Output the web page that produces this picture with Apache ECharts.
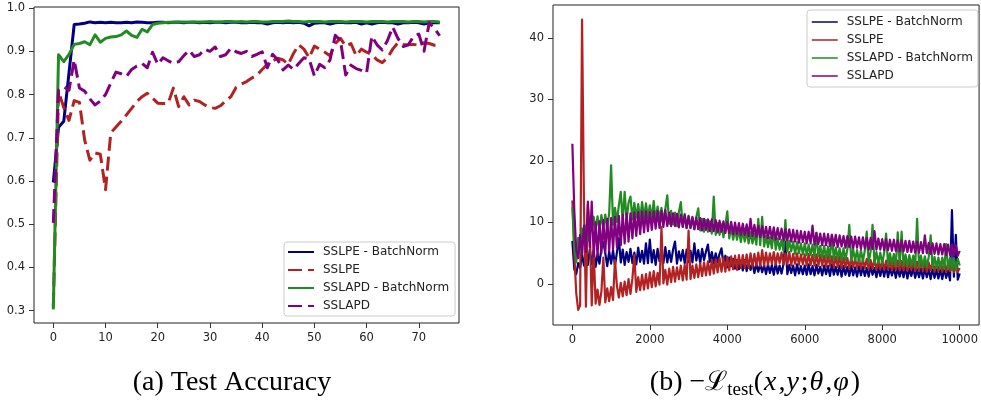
<!DOCTYPE html>
<html>
<head>
<meta charset="utf-8">
<script src="https://cdn.jsdelivr.net/npm/echarts@6/dist/echarts.min.js"></script>
<style>
    html, body { margin: 0; padding: 0; background: #fff; }
    #chart { width: 981px; height: 405px; }
</style>
</head>
<body>
<div id="chart"></div>
<script>
// series names, in drawing order
var seriesNames = ['SSLPE - BatchNorm', 'SSLPE', 'SSLAPD - BatchNorm', 'SSLAPD'];

// (a) test accuracy per epoch, epochs 0..74
var accSslpeBn = [0.597, 0.724, 0.738, 0.850, 0.962, 0.963, 0.965, 0.968, 0.966, 0.967,
    0.966, 0.967, 0.966, 0.966, 0.967, 0.966, 0.968, 0.967, 0.966, 0.966,
    0.967, 0.967, 0.966, 0.967, 0.967, 0.966, 0.967, 0.967, 0.966, 0.967,
    0.966, 0.967, 0.967, 0.966, 0.967, 0.967, 0.966, 0.966, 0.967, 0.966,
    0.966, 0.963, 0.966, 0.967, 0.966, 0.967, 0.966, 0.967, 0.965, 0.959,
    0.965, 0.966, 0.966, 0.963, 0.966, 0.967, 0.966, 0.966, 0.967, 0.963,
    0.966, 0.963, 0.966, 0.967, 0.966, 0.966, 0.963, 0.966, 0.966, 0.967,
    0.966, 0.963, 0.966, 0.966, 0.966];
var accSslpe = [0.310, 0.807, 0.770, 0.740, 0.786, 0.782, 0.695, 0.648, 0.665, 0.662,
    0.580, 0.711, 0.725, 0.738, 0.753, 0.768, 0.784, 0.795, 0.803, 0.792,
    0.780, 0.779, 0.780, 0.815, 0.772, 0.795, 0.776, 0.787, 0.784, 0.776,
    0.770, 0.768, 0.774, 0.785, 0.795, 0.816, 0.824, 0.830, 0.838, 0.845,
    0.858, 0.870, 0.878, 0.884, 0.880, 0.870, 0.895, 0.915, 0.905, 0.885,
    0.912, 0.905, 0.898, 0.890, 0.918, 0.930, 0.912, 0.918, 0.890, 0.905,
    0.898, 0.893, 0.880, 0.874, 0.885, 0.905, 0.920, 0.916, 0.915, 0.916,
    0.914, 0.920, 0.918, 0.914, 0.914];
var accSslapdBn = [0.303, 0.892, 0.876, 0.893, 0.916, 0.918, 0.922, 0.915, 0.938, 0.921,
    0.930, 0.933, 0.934, 0.938, 0.947, 0.937, 0.932, 0.951, 0.945, 0.962,
    0.965, 0.966, 0.967, 0.967, 0.968, 0.968, 0.967, 0.968, 0.968, 0.968,
    0.969, 0.968, 0.968, 0.969, 0.969, 0.968, 0.969, 0.968, 0.969, 0.969,
    0.968, 0.968, 0.969, 0.969, 0.969, 0.970, 0.969, 0.969, 0.968, 0.969,
    0.969, 0.969, 0.968, 0.969, 0.969, 0.969, 0.968, 0.969, 0.969, 0.969,
    0.968, 0.969, 0.969, 0.969, 0.968, 0.969, 0.969, 0.969, 0.968, 0.969,
    0.969, 0.968, 0.969, 0.969, 0.968];
var accSslapd = [0.503, 0.810, 0.818, 0.810, 0.880, 0.815, 0.808, 0.790, 0.776, 0.785,
    0.800, 0.826, 0.852, 0.848, 0.842, 0.858, 0.866, 0.872, 0.862, 0.898,
    0.870, 0.885, 0.878, 0.872, 0.876, 0.890, 0.902, 0.888, 0.892, 0.905,
    0.900, 0.910, 0.888, 0.892, 0.907, 0.899, 0.895, 0.900, 0.888, 0.893,
    0.899, 0.862, 0.893, 0.880, 0.857, 0.868, 0.858, 0.872, 0.885, 0.882,
    0.843, 0.870, 0.862, 0.880, 0.937, 0.925, 0.845, 0.868, 0.860, 0.856,
    0.850, 0.935, 0.915, 0.903, 0.925, 0.956, 0.930, 0.911, 0.915, 0.935,
    0.940, 0.900, 0.966, 0.953, 0.936];

// (b) negative test loss, one reading every lossStep iterations, 0..10000
var lossStep = 50;
var lossSslpeBn = [7.0, 2.4, 1.6, 3.4, 2.6, 4.8, 3.0, 5.2, 3.1, 5.6,
    3.2, 5.4, 2.8, 4.9, 3.3, 5.9, 6.8, 5.0, 2.9, 5.3,
    3.3, 5.5, 3.0, 5.1, 7.4, 3.5, 5.6, 3.1, 5.2, 3.6,
    5.7, 3.4, 5.1, 3.2, 5.9, 3.6, 5.4, 3.3, 6.6, 3.4,
    7.2, 3.5, 5.5, 3.1, 5.7, 3.7, 5.2, 3.4, 6.0, 3.5,
    5.4, 3.6, 5.6, 6.9, 3.3, 5.3, 3.8, 5.5, 3.4, 5.6,
    3.6, 5.4, 3.5, 6.6, 3.8, 5.5, 3.4, 5.7, 3.9, 5.3,
    6.4, 3.6, 5.2, 3.3, 5.0, 3.5, 4.9, 5.8, 3.2, 4.6,
    2.7, 4.3, 2.9, 4.1, 2.5, 3.9, 2.4, 3.8, 2.2, 3.9,
    2.1, 3.5, 2.3, 3.4, 1.8, 3.3, 2.0, 3.2, 1.9, 3.1,
    1.6, 3.2, 1.8, 3.1, 1.5, 3.4, 1.7, 3.0, 1.7, 3.2,
    6.9, 1.6, 3.1, 1.8, 3.0, 1.4, 3.2, 1.7, 2.9, 1.6,
    3.0, 1.5, 3.2, 1.6, 2.9, 1.4, 3.1, 1.7, 2.8, 1.4,
    3.0, 1.6, 2.9, 1.3, 3.2, 1.5, 2.8, 1.5, 3.0, 1.2,
    2.9, 1.5, 2.8, 1.3, 3.0, 1.4, 2.7, 1.2, 2.9, 1.4,
    2.8, 1.3, 2.6, 1.2, 2.9, 1.5, 2.6, 1.1, 2.8, 1.3,
    2.7, 1.2, 2.9, 1.1, 2.6, 1.4, 2.7, 1.0, 2.6, 1.2,
    2.6, 1.1, 2.8, 0.9, 2.5, 1.3, 2.6, 1.0, 2.4, 1.1,
    2.5, 0.9, 2.6, 1.1, 2.4, 0.8, 2.5, 1.0, 2.3, 0.9,
    2.4, 0.8, 2.5, 1.0, 2.2, 0.6, 12.0, 1.2, 8.0, 0.7,
    1.7];
var lossSslpe = [13.6, 5.0, -1.5, -4.2, -3.5, 43.0, 12.6, -3.7, 12.8, 8.8,
    -3.5, 5.6, -3.2, -0.9, -3.4, -1.2, 4.3, -3.0, -0.7, -2.8,
    -0.5, -2.6, 3.9, -0.3, -2.2, 0.2, -2.0, 0.4, -1.8, 0.8,
    -1.6, 0.9, 4.7, -1.3, 1.1, -1.0, 1.5, -0.9, 1.6, -0.7,
    1.9, -0.5, 2.1, -0.4, 1.8, -0.1, 9.3, 0.1, 2.3, -0.1,
    2.5, 0.3, 2.8, 0.4, 2.7, 0.8, 3.0, 0.6, 3.1, 0.7,
    8.7, 0.8, 3.0, 1.0, 3.2, 1.1, 3.4, 1.3, 3.5, 1.4,
    3.7, 1.5, 3.9, 1.7, 4.0, 1.9, 4.2, 2.0, 4.3, 2.0,
    4.4, 2.2, 4.5, 2.4, 4.6, 2.3, 4.7, 2.6, 4.7, 2.6,
    4.8, 2.6, 5.0, 2.8, 4.9, 3.0, 5.1, 2.9, 5.5, 3.0,
    5.1, 3.1, 5.0, 3.3, 5.2, 3.1, 5.0, 3.4, 5.1, 3.2,
    5.0, 3.2, 5.2, 3.0, 4.9, 3.3, 5.0, 3.1, 4.8, 3.2,
    4.8, 3.0, 4.9, 3.1, 4.7, 3.0, 4.8, 2.9, 4.8, 3.0,
    4.6, 2.8, 4.7, 2.9, 4.5, 2.7, 4.4, 2.8, 4.5, 2.6,
    4.3, 2.7, 4.2, 2.5, 4.3, 2.7, 4.1, 2.6, 4.2, 2.5,
    4.0, 2.6, 4.1, 2.4, 3.9, 2.5, 4.0, 2.3, 3.8, 2.4,
    3.9, 2.3, 3.8, 2.4, 3.9, 2.2, 3.7, 2.3, 3.8, 2.2,
    3.7, 2.2, 3.8, 2.1, 3.6, 2.3, 3.7, 2.1, 3.6, 2.2,
    3.6, 2.1, 3.7, 2.0, 3.5, 2.2, 3.6, 2.0, 3.5, 2.1,
    3.5, 2.0, 3.6, 1.9, 3.4, 2.1, 3.5, 1.9, 3.4, 2.0,
    2.6];
var lossSslapdBn = [12.5, 6.0, 3.5, 7.5, 5.0, 9.0, 6.5, 9.5, 7.0, 10.0,
    8.6, 10.9, 8.9, 11.0, 8.7, 11.2, 9.2, 11.3, 9.0, 11.5,
    19.3, 9.6, 12.4, 10.1, 12.8, 15.0, 10.2, 15.0, 10.4, 13.2,
    14.2, 10.5, 13.2, 10.8, 13.0, 10.5, 13.3, 10.7, 13.1, 10.8,
    12.8, 10.6, 13.5, 10.3, 12.6, 10.5, 12.4, 10.1, 12.2, 14.4,
    9.8, 11.9, 9.7, 11.6, 9.4, 11.7, 13.3, 9.3, 11.4, 9.1,
    11.1, 9.1, 10.8, 8.9, 10.9, 12.3, 8.7, 10.6, 8.5, 10.4,
    8.5, 10.2, 8.2, 14.2, 8.0, 9.9, 8.0, 9.7, 7.6, 9.5,
    11.8, 7.4, 9.3, 7.2, 8.9, 7.2, 8.8, 6.8, 8.7, 6.9,
    8.6, 6.6, 8.4, 6.6, 8.2, 6.4, 10.6, 6.3, 10.9, 6.1,
    7.8, 6.0, 7.6, 5.8, 8.9, 5.6, 7.4, 5.6, 7.2, 5.4,
    10.4, 5.3, 7.0, 5.3, 6.9, 4.9, 6.8, 5.0, 6.6, 4.8,
    6.6, 4.7, 6.4, 4.7, 6.4, 4.4, 8.3, 4.5, 6.2, 4.3,
    6.2, 4.2, 6.1, 4.2, 8.0, 4.0, 5.9, 4.1, 5.8, 3.9,
    5.8, 3.9, 5.7, 9.6, 3.8, 5.6, 3.8, 5.5, 3.6, 5.5,
    3.7, 5.4, 8.5, 3.5, 5.3, 9.6, 3.4, 5.2, 3.4, 5.1,
    3.3, 5.1, 8.2, 3.2, 5.0, 3.2, 4.9, 3.0, 8.4, 3.1,
    8.5, 3.0, 4.8, 2.9, 4.7, 3.0, 4.6, 2.8, 10.6, 2.8,
    4.6, 2.7, 4.5, 2.8, 4.4, 7.9, 2.6, 4.4, 2.6, 4.3,
    2.5, 4.3, 2.5, 6.5, 2.4, 4.2, 2.3, 4.2, 2.3, 4.1,
    3.0];
var lossSslapd = [22.8, 12.0, 5.5, 4.2, 8.0, 4.8, 9.5, 5.2, 13.4, 6.0,
    13.4, 4.5, 10.0, 4.6, 10.2, 5.0, 10.4, 5.2, 10.6, 5.4,
    10.7, 5.6, 10.9, 6.0, 11.1, 6.3, 11.3, 6.6, 11.5, 6.9,
    11.5, 7.4, 11.6, 7.8, 11.7, 8.1, 11.8, 8.4, 11.8, 8.6,
    11.7, 8.8, 11.8, 9.0, 11.9, 9.1, 11.9, 9.3, 12.0, 9.4,
    11.6, 9.4, 11.5, 9.4, 11.4, 9.2, 11.3, 9.3, 11.2, 9.1,
    11.0, 9.1, 10.9, 8.9, 10.8, 8.9, 10.7, 8.7, 10.6, 8.8,
    10.5, 8.6, 10.5, 8.6, 10.4, 8.4, 10.3, 8.5, 10.2, 8.3,
    10.1, 8.3, 10.1, 8.1, 10.0, 8.1, 9.9, 8.0, 9.8, 8.0,
    9.7, 7.8, 10.6, 7.8, 9.6, 7.7, 9.5, 7.6, 9.4, 7.6,
    9.3, 7.4, 9.3, 7.4, 9.2, 7.2, 9.1, 7.3, 9.0, 7.1,
    8.9, 7.1, 8.9, 6.9, 8.8, 6.9, 8.7, 6.7, 8.6, 6.8,
    8.5, 6.6, 8.5, 6.6, 9.5, 6.4, 8.3, 6.5, 8.2, 6.3,
    8.2, 6.3, 8.1, 6.2, 8.0, 6.2, 8.0, 6.0, 7.9, 6.1,
    7.8, 5.9, 7.8, 6.0, 7.7, 5.8, 7.7, 5.9, 7.6, 5.7,
    7.6, 5.8, 7.5, 5.6, 7.5, 5.7, 8.6, 5.6, 7.4, 5.6,
    7.3, 5.5, 7.3, 5.5, 7.2, 5.4, 7.2, 5.4, 7.1, 5.3,
    7.1, 5.3, 7.0, 5.2, 7.0, 5.2, 6.9, 5.1, 6.9, 5.1,
    6.8, 5.0, 7.9, 5.0, 6.7, 4.9, 6.6, 4.9, 6.6, 4.8,
    6.5, 4.8, 6.5, 4.7, 6.4, 4.7, 6.4, 4.6, 6.3, 4.6,
    5.4];

// tick labels
var epochTicks = [0, 10, 20, 30, 40, 50, 60, 70];
var accTicks = [0.3, 0.4, 0.5, 0.6, 0.7, 0.8, 0.9, 1.0];
var iterTicks = [0, 2000, 4000, 6000, 8000, 10000];
var lossTicks = [0, 10, 20, 30, 40];

var colors = ['#000080', '#b22222', '#228b22', '#800080'];
var tickFont = { fontFamily: 'DejaVu Sans', fontSize: 11.5, color: '#222' };

function axisCommon(ticks, margin, fmt) {
    return {
        type: 'value',
        scale: true,
        axisLine: { show: false, onZero: false },
        splitLine: { show: false },
        axisTick: { show: true, inside: false, length: 5, customValues: ticks,
            lineStyle: { color: '#333', width: 1 } },
        axisLabel: { show: true, customValues: ticks, margin: margin,
            fontFamily: tickFont.fontFamily, fontSize: tickFont.fontSize, color: tickFont.color,
            formatter: fmt }
    };
}

function lineSeries(name, values, idx, color, width, dash, step) {
    var pts = [];
    for (var i = 0; i < values.length; i++) {
        pts.push([i * step, values[i]]);
    }
    return {
        name: name,
        type: 'line',
        xAxisIndex: idx,
        yAxisIndex: idx,
        symbol: 'none',
        showSymbol: false,
        sampling: null,
        data: pts,
        itemStyle: { color: color },
        lineStyle: { color: color, width: width, type: dash ? [14, 6] : 'solid',
            cap: 'butt', join: 'round' },
        z: 2
    };
}

var chart = echarts.init(document.getElementById('chart'), null, { renderer: 'canvas' });

var xa0 = axisCommon(epochTicks, 9, function (v) { return String(v); });
xa0.gridIndex = 0; xa0.min = -3.7; xa0.max = 77.7;
var ya0 = axisCommon(accTicks, 9, function (v) { return v.toFixed(1); });
ya0.gridIndex = 0; ya0.min = 0.2715; ya0.max = 1.0025;
var xa1 = axisCommon(iterTicks, 9, function (v) { return String(v); });
xa1.gridIndex = 1; xa1.min = -500; xa1.max = 10500;
var ya1 = axisCommon(lossTicks, 9, function (v) { return String(v); });
ya1.gridIndex = 1; ya1.min = -6.67; ya1.max = 45.37;

// legend icon: only the line, no marker in the middle
var hiddenMarker = { color: 'rgba(0,0,0,0)', borderWidth: 0, opacity: 0 };

var legendBase = {
    orient: 'vertical',
    itemWidth: 26,
    itemHeight: 14,
    itemGap: 4,
    backgroundColor: 'rgba(255,255,255,0.8)',
    borderColor: '#cccccc',
    borderWidth: 1,
    borderRadius: 3,
    selectedMode: false,
    itemStyle: hiddenMarker,
    textStyle: { fontFamily: 'DejaVu Sans', fontSize: 12, color: '#222', lineHeight: 14,
        padding: [0, 0, 0, 4] }
};

var legendLeft = echarts.util.merge({
    left: 284, top: 242, padding: [3, 6, 3, 3],
    data: seriesNames.map(function (n) {
        return { name: n, itemStyle: hiddenMarker };
    })
}, legendBase, false);

var legendRight = echarts.util.merge({
    left: 807, top: 10, padding: [5, 5, 4, 4],
    data: seriesNames.map(function (n, k) {
        return { name: n, itemStyle: hiddenMarker,
            lineStyle: { width: 1.5, type: 'solid', color: colors[k] } };
    })
}, legendBase, false);

var series = [
    lineSeries(seriesNames[0], accSslpeBn, 0, colors[0], 3, false, 1),
    lineSeries(seriesNames[1], accSslpe, 0, colors[1], 3, true, 1),
    lineSeries(seriesNames[2], accSslapdBn, 0, colors[2], 3, false, 1),
    lineSeries(seriesNames[3], accSslapd, 0, colors[3], 3, true, 1),
    lineSeries(seriesNames[0], lossSslpeBn, 1, colors[0], 2.2, false, lossStep),
    lineSeries(seriesNames[1], lossSslpe, 1, colors[1], 2.2, false, lossStep),
    lineSeries(seriesNames[2], lossSslapdBn, 1, colors[2], 2.2, false, lossStep),
    lineSeries(seriesNames[3], lossSslapd, 1, colors[3], 2.2, false, lossStep)
];

chart.setOption({
    animation: false,
    backgroundColor: '#ffffff',
    grid: [
        { left: 34, top: 7, width: 425, height: 316, show: true, borderColor: '#222', borderWidth: 1 },
        { left: 553, top: 5, width: 429.5, height: 320, show: true, borderColor: '#222', borderWidth: 1 }
    ],
    xAxis: [xa0, xa1],
    yAxis: [ya0, ya1],
    legend: [legendLeft, legendRight],
    series: series,
    graphic: [
        {
            type: 'text', x: 232, y: 383,
            style: {
                text: '(a) Test Accuracy',
                fontFamily: 'Liberation Serif', fontSize: 28, fill: '#000',
                textAlign: 'center', textVerticalAlign: 'middle'
            }
        },
        {
            type: 'text', x: 755, y: 383,
            style: {
                text: '{n|(b) \u2212}{c|\u2112}{s|test}{n|(}{i|x}{n|,}{i|y}{n|;}{i|\u03b8}{n|,}{i|\u03c6}{n|)}',
                textAlign: 'center', textVerticalAlign: 'middle',
                rich: {
                    n: { fontFamily: 'Liberation Serif', fontSize: 28, fill: '#000', lineHeight: 34 },
                    c: { fontFamily: 'DejaVu Serif', fontSize: 27, fill: '#000', lineHeight: 34 },
                    s: { fontFamily: 'Liberation Serif', fontSize: 19, fill: '#000', lineHeight: 34,
                        verticalAlign: 'bottom' },
                    i: { fontFamily: 'Liberation Serif', fontStyle: 'italic', fontSize: 28, fill: '#000',
                        lineHeight: 34, padding: [0, 2, 0, 1] }
                }
            }
        }
    ]
});
</script>
</body>
</html>
